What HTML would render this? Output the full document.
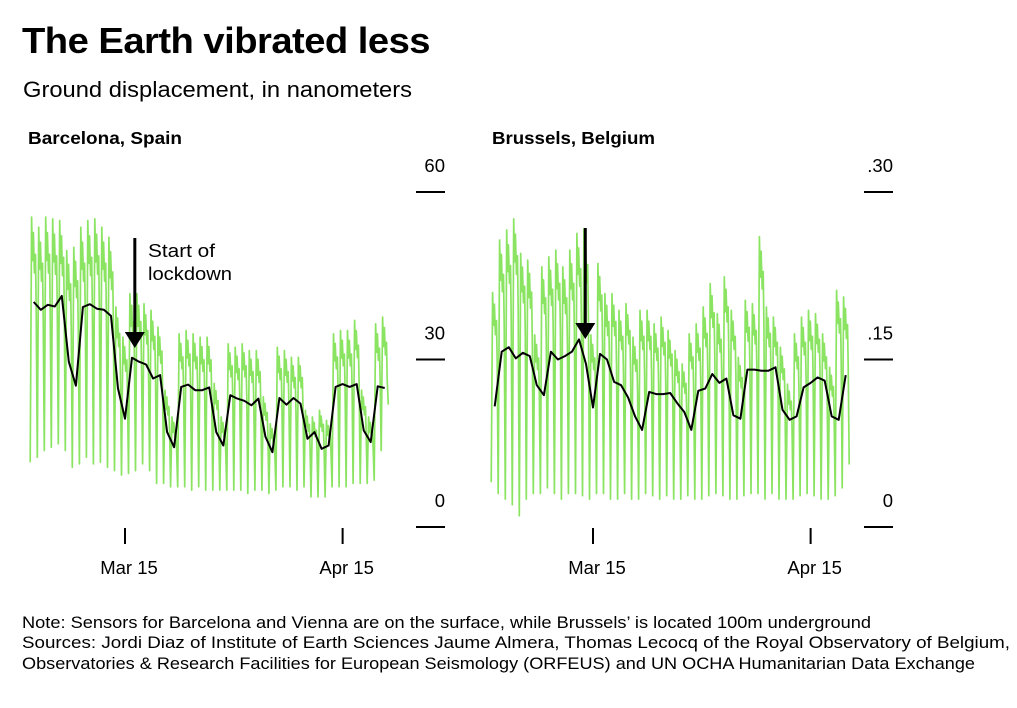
<!DOCTYPE html>
<html><head><meta charset="utf-8"><style>
body{margin:0;background:#fff;font-family:"Liberation Sans",Arial,sans-serif;color:#000}
svg text{font-family:"Liberation Sans",Arial,sans-serif}
</style></head><body>
<svg id="c" width="1017" height="703" xmlns="http://www.w3.org/2000/svg">
<text x="22" y="53" font-size="36" font-weight="bold" letter-spacing="-0.5" textLength="408" lengthAdjust="spacingAndGlyphs">The Earth vibrated less</text>
<text x="23" y="97" font-size="22" textLength="389" lengthAdjust="spacingAndGlyphs">Ground displacement, in nanometers</text>
<text x="28" y="144" font-size="17.5" font-weight="bold" textLength="154" lengthAdjust="spacingAndGlyphs">Barcelona, Spain</text>
<text x="492" y="144" font-size="17.5" font-weight="bold" textLength="163" lengthAdjust="spacingAndGlyphs">Brussels, Belgium</text>
<g id="left"></g>
<g id="right"></g>
<text x="148" y="257" font-size="18.5" textLength="67" lengthAdjust="spacingAndGlyphs">Start of</text>
<text x="148" y="280" font-size="18.5" textLength="84" lengthAdjust="spacingAndGlyphs">lockdown</text>
<text font-size="16.5">
<tspan x="22" y="628" textLength="849" lengthAdjust="spacingAndGlyphs">Note: Sensors for Barcelona and Vienna are on the surface, while Brussels’ is located 100m underground</tspan>
<tspan x="22" y="648" textLength="988" lengthAdjust="spacingAndGlyphs">Sources: Jordi Diaz of Institute of Earth Sciences Jaume Almera, Thomas Lecocq of the Royal Observatory of Belgium,</tspan>
<tspan x="22" y="669" textLength="953" lengthAdjust="spacingAndGlyphs">Observatories &amp; Research Facilities for European Seismology (ORFEUS) and UN OCHA Humanitarian Data Exchange</tspan>
</text>
</svg>
<script>
// Barcelona: daily values, day offsets relative to Mar 15
const bcnStartDay = -13;
const bcnMean = [40.3,38.9,39.8,39.5,41.4,29.6,25.3,39.4,39.9,39.1,38.9,37.8,24.8,19.4,30.3,29.6,29.1,26.6,27.2,17.0,14.3,25.1,25.5,24.5,24.5,25.0,17.0,14.6,23.6,23.0,22.6,21.8,23.0,16.2,13.4,23.1,21.9,23.1,22.1,15.8,17.0,14.0,14.6,25.1,25.6,25.1,25.6,17.3,15.2,25.2,24.9];
const bcnHigh = [55.5,53.7,55.5,55.2,54.9,49.5,50.1,53.7,54.9,55.2,53.7,51.9,39.4,34.0,41.8,41.8,40.0,38.8,35.8,24.5,19.7,34.6,35.2,34.6,34.0,34.0,25.7,19.7,32.8,32.2,32.8,31.6,31.6,23.3,18.5,32.2,31.6,30.4,30.4,20.9,19.7,20.9,19.1,34.6,35.2,35.2,37.0,24.5,19.7,36.4,37.6];
const bcnLow = [11.6,12.5,13.7,14.3,14.9,13.7,10.7,11.3,12.5,11.3,11.6,10.7,10.1,9.3,9.6,10.1,11.3,10.1,7.8,7.8,7.2,7.2,7.2,6.6,7.2,6.6,6.6,6.6,6.6,6.6,6.6,6.0,6.6,6.6,6.0,6.6,7.2,7.2,6.6,7.2,5.4,5.4,5.4,7.2,7.2,7.2,7.8,7.8,7.8,8.4,13.7];
const bcnTicks = [60,30,0];
const bcnTickLabels = ["60","30","0"];
// Brussels
const bruStartDay = -14;
const bruMean = [.108,.157,.161,.151,.156,.153,.127,.118,.157,.150,.153,.157,.168,.146,.107,.155,.150,.130,.127,.116,.099,.087,.121,.119,.119,.120,.111,.103,.087,.122,.124,.137,.129,.133,.100,.097,.141,.141,.140,.140,.143,.105,.096,.099,.125,.129,.134,.131,.099,.096,.136];
const bruHigh = [.210,.257,.266,.276,.245,.239,.172,.233,.242,.248,.233,.248,.263,.267,.172,.236,.209,.209,.194,.200,.170,.194,.194,.182,.188,.176,.158,.146,.173,.182,.197,.218,.191,.224,.194,.152,.203,.200,.260,.197,.188,.161,.128,.173,.188,.194,.191,.173,.143,.212,.206];
const bruLow = [.040,.030,.025,.020,.010,.025,.030,.030,.035,.030,.025,.030,.030,.028,.025,.030,.030,.025,.025,.030,.025,.025,.030,.028,.025,.028,.025,.025,.028,.025,.025,.028,.030,.028,.025,.025,.028,.030,.030,.025,.030,.025,.025,.025,.028,.030,.028,.025,.025,.028,.035];
const bruTicks = [.30,.15,0];
const bruTickLabels = [".30",".15","0"];
const dateTicks = [0,31];
const dateLabels = ["Mar 15","Apr 15"];
const NS="http://www.w3.org/2000/svg";
function mk(tag,attrs,parent){const e=document.createElementNS(NS,tag);for(const k in attrs)e.setAttribute(k,attrs[k]);parent.appendChild(e);return e;}
function panel(g,cfg){
  const x=d=>cfg.x0+(d-0)*cfg.px;
  const y=v=>527-(v/cfg.max)*335;
  let pts=[];
  cfg.hi.forEach((h,i)=>{
    const d=cfg.start+i, lo=cfg.lo[i];
    pts.push([x(d-0.5),y(lo)]);
    pts.push([x(d-0.3),y(h)]);
    pts.push([x(d-0.18),y(h*0.86)]);
    pts.push([x(d-0.05),y(h*0.95)]);
    pts.push([x(d+0.1),y(h*0.82)]);
    pts.push([x(d+0.25),y(h*0.88)]);
    pts.push([x(d+0.35),y(h*0.7)]);
  });
  pts.push([x(cfg.start+cfg.hi.length-0.5),y(cfg.lo[cfg.lo.length-1]*1.6)]);
  const gp=mk('path',{d:'M'+pts.map(p=>p[0].toFixed(1)+','+p[1].toFixed(1)).join('L'),fill:'none',stroke:'#8ae462','stroke-width':1.7,'stroke-linejoin':'round'},g);
  
  
  const bp=mk('path',{d:'M'+cfg.mean.map((v,i)=>x(cfg.start+i).toFixed(1)+','+y(v).toFixed(1)).join('L'),fill:'none',stroke:'#000','stroke-width':2,'stroke-linejoin':'round'},g);
  
  
  cfg.ticks.forEach((t,i)=>{
    const l=mk('line',{x1:cfg.tx,x2:cfg.tx+29,y1:y(t),y2:y(t),stroke:'#000','stroke-width':2},g);
    
    
    const tx=mk('text',{x:cfg.tx+29,y:y(t)-20,'font-size':18.5,'text-anchor':'end'},g);
    tx.textContent=cfg.labels[i];
    
    
  });
  dateTicks.forEach((d,i)=>{
    const l=mk('line',{x1:x(d),x2:x(d),y1:528,y2:544,stroke:'#000','stroke-width':2},g);
    
    
    const tx=mk('text',{x:x(d)+4,y:574,'font-size':18.5,'text-anchor':'middle'},g);
    tx.textContent=dateLabels[i];
    
    
  });
  const ax=x(cfg.arrowDay);
  const a=mk('line',{x1:ax,x2:ax,y1:cfg.arrowTop,y2:cfg.arrowTip-14,stroke:'#000','stroke-width':3},g);
  
  
  const h=mk('polygon',{points:`${ax-10},${cfg.arrowTip-16} ${ax+10},${cfg.arrowTip-16} ${ax},${cfg.arrowTip}`,fill:'#000'},g);
  
  
}
panel(document.getElementById('left'),{x0:125,px:7.02,max:60,start:bcnStartDay,mean:bcnMean,hi:bcnHigh,lo:bcnLow,ticks:bcnTicks,labels:bcnTickLabels,tx:416,arrowDay:1.4,arrowTop:238,arrowTip:348});
panel(document.getElementById('right'),{x0:593,px:7.02,max:0.30,start:bruStartDay,mean:bruMean,hi:bruHigh,lo:bruLow,ticks:bruTicks,labels:bruTickLabels,tx:864,arrowDay:-1.1,arrowTop:228,arrowTip:339});
</script>
</body></html>
